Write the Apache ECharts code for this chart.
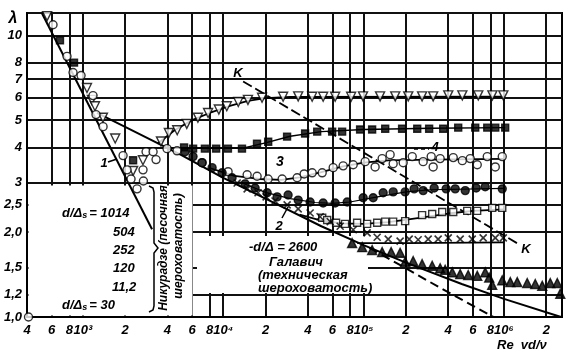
<!DOCTYPE html>
<html><head><meta charset="utf-8">
<script src="https://cdn.jsdelivr.net/npm/echarts@6/dist/echarts.min.js"></script>
<style>html,body{margin:0;padding:0;background:#fff}#c{width:584px;height:362px}</style>
</head><body><div id="c"></div>
<script>
// ---- axis ticks ----
const xTicks = [400,600,800,1000,2000,4000,6000,8000,1e4,2e4,4e4,6e4,8e4,1e5,2e5,4e5,6e5,8e5,1e6,2e6];
const xTickLabels = ['4','6','8','10³','2','4','6','8','10⁴','2','4','6','8','10⁵','2','4','6','8','10⁶','2'];
const yTicks = [1,1.2,1.5,2,2.5,3,4,5,6,7,8,10,12];
const yTickLabels = ['1,0','1,2','1,5','2,0','2,5','3','4','5','6','7','8','10',''];

// ---- measured points [Re, 100·λ] ----
const ds30 = [[556,11.7],[1070,6.5],[1160,5.9],[1220,5.6],[1390,5.1],[1700,4.3],[2280,3.3],[2680,3.6],[3600,4.2],[4100,4.5],[4700,4.6],[5500,4.85],[6600,5.1],[7800,5.3],[9300,5.45],[10600,5.6],[12800,5.8],[15000,5.9],[18900,6.0],[26700,6.05],[34200,6.07],[43000,6.05],[51500,6.05],[62700,6.05],[81500,6.05],[99000,6.07],[131000,6.07],[168000,6.07],[208000,6.07],[261000,6.07],[313000,6.07],[401000,6.12],[505000,6.12],[656000,6.12],[827000,6.12],[989000,6.12]];
const ds61 = [[687,9.6],[865,8.0],[2280,3.6],[5260,4.0],[6100,3.96],[7400,3.96],[8900,3.96],[10800,3.96],[13600,3.96],[17400,4.12],[20900,4.19],[28500,4.37],[38300,4.48],[46700,4.55],[59700,4.55],[70300,4.55],[94400,4.63],[115000,4.63],[142500,4.66],[188000,4.66],[241000,4.66],[293000,4.66],[369000,4.66],[472000,4.7],[624000,4.7],[760000,4.7],[867000,4.7],[1020000,4.7]];
const ds120 = [[410,1.0],[613,10.9],[771,8.42],[851,7.38],[971,7.2],[1181,6.11],[1240,5.23],[1393,4.74],[1934,3.74],[2064,3.33],[2204,3.09],[2432,2.85],[2683,3.33],[2700,3.04],[2820,3.86],[3164,3.86],[3321,3.62],[3978,3.96],[4688,3.89],[7066,3.53],[10830,3.28],[14800,3.2],[17430,3.16],[20880,3.09],[26280,3.09],[33600,3.12],[37700,3.22],[43000,3.25],[50700,3.25],[60700,3.39],[71500,3.44],[84300,3.47],[102600,3.56],[120800,3.41],[135500,3.65],[154500,3.77],[162400,3.5],[191400,3.53],[222000,3.71],[265600,3.56],[303000,3.71],[313000,3.41],[351000,3.65],[435000,3.68],[505000,3.59],[575000,3.65],[645000,3.47],[760000,3.71],[867000,3.41],[972000,3.71]];
const ds252 = [[5346,3.86],[6095,3.71],[7066,3.53],[8333,3.39],[9817,3.25],[11560,3.12],[14310,2.97],[16870,2.87],[20550,2.76],[24220,2.67],[28980,2.71],[34190,2.6],[41590,2.56],[51500,2.54],[62700,2.54],[76400,2.56],[99300,2.65],[117000,2.65],[137800,2.76],[162400,2.78],[197700,2.78],[229100,2.85],[265600,2.81],[318200,2.87],[387300,2.85],[449300,2.85],[529500,2.81],[634100,2.87],[735000,2.9],[972000,2.85]];
const ds504 = [[50700,2.25],[55000,2.21],[63700,2.16],[73800,2.14],[89900,2.16],[105900,2.14],[124900,2.16],[142500,2.18],[162400,2.18],[197700,2.19],[261000,2.3],[308000,2.32],[363000,2.36],[435000,2.36],[547000,2.38],[644000,2.38],[824000,2.44],[972000,2.44]];
const ds1014 = [[12560,2.99],[14800,2.85],[17700,2.76],[20200,2.67],[23400,2.58],[28530,2.5],[34190,2.42],[41590,2.34],[48980,2.27],[57810,2.18],[68080,2.1],[84300,2.04],[105900,1.99],[124900,1.92],[149700,1.89],[182000,1.86],[211200,1.89],[244700,1.88],[288400,1.89],[339600,1.89],[401000,1.91],[487500,1.89],[594000,1.89],[711000,1.91],[867000,1.91],[989000,1.91]];
const dsGalavich = [[82800,1.83],[97700,1.77],[115000,1.73],[135500,1.7],[157000,1.7],[182000,1.69],[197700,1.57],[225400,1.58],[261000,1.54],[308000,1.52],[351000,1.49],[381000,1.47],[428000,1.44],[487500,1.42],[556000,1.41],[645000,1.4],[735000,1.44],[785000,1.38],[824000,1.3],[972000,1.35],[1109000,1.33],[1243000,1.33],[1464000,1.32],[1670000,1.31],[1873000,1.29],[2136000,1.32],[2397000,1.32],[2518000,1.21]];

// ---- drawn curves [Re, 100·λ] ----
const curveLaminar = [[510,12],[3110,2.05]];
const curveSmooth = [[1260,5.3],[2000,4.73],[5000,3.76],[10000,3.12],[20000,2.63],[50000,2.1],[100000,1.8],[200000,1.56],[500000,1.31],[1000000,1.16],[2550000,1.0]];
const curveBlasiusExt = [[110000,1.76],[200000,1.49],[350000,1.27],[840000,1.0]];
const curve30 = [[3400,4.12],[4500,4.6],[6000,5.0],[8000,5.3],[11000,5.6],[15000,5.85],[20000,5.98],[30000,6.04],[1000000,6.06]];
const curve61 = [[4000,3.97],[14000,3.98],[20000,4.15],[30000,4.38],[50000,4.55],[100000,4.63],[300000,4.68],[1020000,4.7]];
const curve120 = [[8000,3.38],[12000,3.17],[18000,3.09],[26000,3.07],[35000,3.13],[50000,3.27],[70000,3.42],[100000,3.53],[150000,3.6],[300000,3.62],[1000000,3.64]];
const curve252 = [[13000,3.02],[20000,2.77],[30000,2.63],[45000,2.55],[60000,2.53],[80000,2.56],[120000,2.66],[200000,2.78],[300000,2.83],[1000000,2.86]];
const curve504 = [[35000,2.31],[50000,2.2],[70000,2.15],[100000,2.14],[150000,2.17],[250000,2.25],[400000,2.33],[600000,2.38],[1000000,2.41]];
const curve1014 = [[90000,1.83],[200000,1.83],[1000000,1.84]];
const lineK = [[13860,6.86],[1306000,1.8]];

const FONT = '"Liberation Sans", "DejaVu Sans", sans-serif';
function lab(ticks, labels){ return v => { const i = ticks.findIndex(t => Math.abs(t - v) / t < 1e-6); return i < 0 ? '' : labels[i]; }; }

function lineSeries(data, w, dash){ return {type:'line', data, symbol:'none', silent:true, z:3,
  lineStyle:{color:'#000', width:w, type: dash || 'solid'}}; }
function scat(data, symbol, size, fill, extra){ return Object.assign({type:'scatter', data, symbol, symbolSize:size, z:5, silent:true,
  itemStyle:{color:fill, borderColor:'#000', borderWidth:1.4}}, extra||{}); }

const chart = echarts.init(document.getElementById('c'), null, {renderer:'canvas'});
const txt = (x,y,text,size,align,extra) => Object.assign({type:'text', x, y, z:20, silent:true,
  style:{text, font:'italic bold '+size+'px '+FONT, fill:'#000', textAlign:align||'left', textVerticalAlign:'middle'}}, extra||{});
const legendSub = (x,y,val) => ({type:'text', x, y, z:20, silent:true, style:{text:'{a|d/Δ}{s|s}{a|= '+val+'}', textAlign:'left', textVerticalAlign:'middle',
  rich:{a:{font:'italic bold 13px '+FONT, fill:'#000'}, s:{font:'italic bold 9px '+FONT, fill:'#000', padding:[6,2,0,0]}}}});

chart.setOption({
  animation:false,
  backgroundColor:'#fff',
  grid:{left:27, top:13, width:535, height:304, show:true, borderColor:'#000', borderWidth:2, containLabel:false, outerBoundsMode:'none'},
  xAxis:{type:'log', logBase:10, min:400, max:2590000,
    axisLine:{show:true, lineStyle:{color:'#000', width:2}},
    axisTick:{show:false, customValues:xTicks},
    splitLine:{show:true, lineStyle:{color:'#111', width:2}},
    minorSplitLine:{show:false},
    axisLabel:{customValues:xTicks, formatter:lab(xTicks,xTickLabels), color:'#000', fontSize:13, fontStyle:'italic', fontWeight:'bold', fontFamily:FONT, margin:7}},
  yAxis:{type:'log', logBase:10, min:1, max:12,
    axisLine:{show:true, lineStyle:{color:'#000', width:2}},
    axisTick:{show:false, customValues:yTicks},
    splitLine:{show:true, lineStyle:{color:'#111', width:2}},
    axisLabel:{customValues:yTicks, formatter:lab(yTicks,yTickLabels), color:'#000', fontSize:13, fontStyle:'italic', fontWeight:'bold', fontFamily:FONT, margin:5}},
  series:[
    lineSeries(curveLaminar, 2),
    lineSeries(curveSmooth, 2),
    lineSeries(curveBlasiusExt, 2, [9,5]),
    lineSeries(curve30, 1.8),
    lineSeries(curve61, 1.4),
    lineSeries(curve120, 1.8),
    lineSeries(curve252, 1.2),
    lineSeries(curve504, 1.8),
    lineSeries(curve1014, 1.8),
    lineSeries(lineK, 1.8, [10,4]),
    scat(ds30, 'triangle', 9, '#fff', {symbolRotate:180}),
    scat(ds61, 'rect', 7, '#000'),
    scat(ds120, 'circle', 8, '#fff'),
    scat(ds252, 'circle', 8, '#000'),
    scat(ds504, 'rect', 7, '#fff'),
    scat(ds1014, 'path://M0,0L10,10M10,0L0,10', 7, 'none', {itemStyle:{color:'none', borderColor:'#000', borderWidth:1.6}}),
    scat(dsGalavich, 'triangle', 9, '#000')
  ],
  graphic:[
    {type:'rect', z:1, silent:true, shape:{x:28.5, y:185.5, width:164, height:130}, style:{fill:'#fff'}},
    {type:'rect', z:1, silent:true, shape:{x:197, y:236, width:171, height:57}, style:{fill:'#fff'}},
    txt(13, 19, 'λ', 16, 'center'),
    txt(238, 73, 'K', 13, 'center'),
    txt(526, 249, 'K', 13, 'center'),
    txt(104, 163, '1', 13, 'center'),
    {type:'line', z:20, silent:true, shape:{x1:108, y1:162, x2:117, y2:159}, style:{stroke:'#000', lineWidth:1.5}},
    txt(279, 226, '2', 13, 'center'),
    {type:'line', z:20, silent:true, shape:{x1:282, y1:218, x2:288, y2:207}, style:{stroke:'#000', lineWidth:1.5}},
    txt(280, 162, '3', 14, 'center'),
    txt(435, 147, '4', 13, 'center'),
    {type:'line', z:20, silent:true, shape:{x1:414, y1:149, x2:429, y2:149}, style:{stroke:'#000', lineWidth:1.4, lineDash:[4,3]}},
    // legend symbols
    {type:'group', z:20, silent:true, children:[
      {type:'line', shape:{x1:38.5, y1:209.5, x2:45.5, y2:216.5}, style:{stroke:'#000', lineWidth:1.6}},
      {type:'line', shape:{x1:45.5, y1:209.5, x2:38.5, y2:216.5}, style:{stroke:'#000', lineWidth:1.6}},
      {type:'rect', shape:{x:39, y:228.5, width:8, height:7}, style:{fill:'#fff', stroke:'#000', lineWidth:1.5}},
      {type:'circle', shape:{cx:43, cy:250, r:4.5}, style:{fill:'#000'}},
      {type:'circle', shape:{cx:43, cy:268, r:4.2}, style:{fill:'#fff', stroke:'#000', lineWidth:1.5}},
      {type:'rect', shape:{x:38.5, y:283, width:8, height:8}, style:{fill:'#000'}},
      {type:'polygon', shape:{points:[[38,301],[48,301],[43,310]]}, style:{fill:'#fff', stroke:'#000', lineWidth:1.5}},
      {type:'polygon', shape:{points:[[238.5,251.5],[247.5,251.5],[243,242.5]]}, style:{fill:'#000'}}
    ]},
    legendSub(62, 213, '1014'),
    txt(113, 232, '504', 13),
    txt(113, 250, '252', 13),
    txt(113, 268, '120', 13),
    txt(112, 287, '11,2', 13),
    legendSub(62, 305, '30'),
    // bracket
    {type:'polyline', z:20, silent:true, shape:{points:[[149,186],[153,188],[154,192],[154,243],[158,248],[154,253],[154,306],[153,310],[149,312]]}, style:{stroke:'#000', lineWidth:1.5, fill:null}},
    txt(164, 248, 'Никурадзе (песочная', 12, 'center', {rotation:Math.PI/2}),
    txt(179, 246, 'шероховатость)', 12, 'center', {rotation:Math.PI/2}),
    // Galavich
    txt(249, 247, '-d/Δ = 2600', 13),
    txt(296, 262, 'Галавич', 13, 'center'),
    txt(258, 275, '(техническая', 13),
    txt(258, 288, 'шероховатость)', 13),
    txt(497, 345, 'Re  vd/ν', 13)
  ]
});
</script></body></html>
